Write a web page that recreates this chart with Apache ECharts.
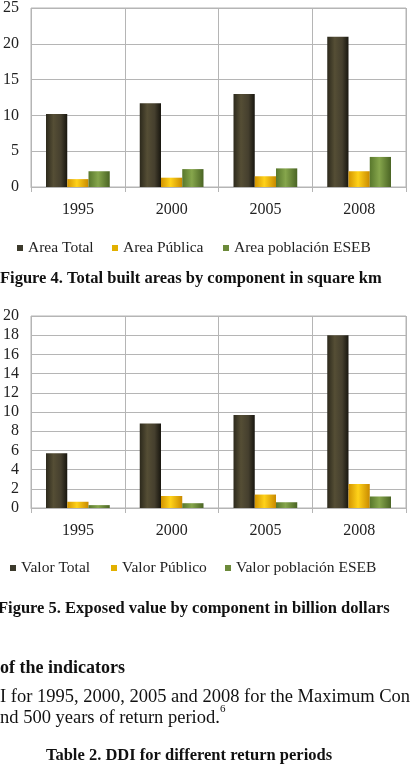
<!DOCTYPE html>
<html>
<head>
<meta charset="utf-8">
<script src="https://cdn.jsdelivr.net/npm/echarts@6/dist/echarts.min.js"></script>
<style>
html,body{margin:0;padding:0;background:#fff;}
#c{width:417px;height:769px;}
</style>
</head>
<body>
<div id="c"></div>
<script>
// ---- data ----
var years = ['1995', '2000', '2005', '2008'];
var areaNames = ['Area Total', 'Area Pública', 'Area población ESEB'];
var areaTotal = [10.2, 11.7, 13.0, 21.0];
var areaPublica = [1.1, 1.3, 1.5, 2.2];
var areaESEB = [2.2, 2.5, 2.6, 4.2];
var areaTicks = [0, 5, 10, 15, 20, 25];

var valorNames = ['Valor Total', 'Valor Público', 'Valor población ESEB'];
var valorTotal = [5.7, 8.8, 9.7, 18.0];
var valorPublico = [0.65, 1.25, 1.4, 2.5];
var valorESEB = [0.3, 0.5, 0.6, 1.2];
var valorTicks = [0, 2, 4, 6, 8, 10, 12, 14, 16, 18, 20];

var captionFig4 = 'Figure 4. Total built areas by component in square km';
var captionFig5 = 'Figure 5. Exposed value by component in billion dollars';
var heading = 'of the indicators';
var body1 = 'I for 1995, 2000, 2005 and 2008 for the Maximum Con';
var body2 = 'nd 500 years of return period.';
var sup = '6';
var tableTitle = 'Table 2. DDI for different return periods';

// ---- styles ----
var FONT = '"Liberation Serif", "DejaVu Serif", serif';
function grad(stops) {
  return new echarts.graphic.LinearGradient(0, 0, 1, 0, stops.map(function (s) { return { offset: s[0], color: s[1] }; }));
}
var cTotal = grad([[0, '#2c291c'], [0.35, '#554e35'], [0.7, '#453f2e'], [1, '#18160f']]);
var cPub = grad([[0, '#d39400'], [0.45, '#ffd21a'], [1, '#c98a00']]);
var cEseb = grad([[0, '#58772c'], [0.45, '#86a64c'], [1, '#4a6424']]);
var legendColors = ['#3c3a2c', '#e2b000', '#6c8a3a'];
var grey = '#b5b5b5';

var chart = echarts.init(document.getElementById('c'), null, { renderer: 'canvas' });

function xAxisFor(gi) {
  return {
    type: 'category', gridIndex: gi, data: years,
    axisLine: { show: true, lineStyle: { color: grey, width: 1 } },
    axisTick: { show: true, length: 5, lineStyle: { color: grey } },
    axisLabel: { color: '#222', fontFamily: FONT, fontSize: 16, margin: 15 },
    splitLine: { show: true, lineStyle: { color: grey, width: 1 } }
  };
}
function yAxisFor(gi, ticks) {
  return {
    type: 'value', gridIndex: gi, min: ticks[0], max: ticks[ticks.length - 1],
    interval: ticks[1] - ticks[0],
    axisLine: { show: false }, axisTick: { show: false },
    axisLabel: { color: '#222', fontFamily: FONT, fontSize: 16, margin: 12 },
    splitLine: { show: true, lineStyle: { color: grey, width: 1 } }
  };
}
function barSeries(name, data, xi, color) {
  return {
    type: 'bar', name: name, data: data, xAxisIndex: xi, yAxisIndex: xi,
    barGap: '0%', barCategoryGap: '32%',
    itemStyle: { color: color }
  };
}
function legendItem(name, color, left, top) {
  return {
    data: [{ name: name, itemStyle: { color: color } }],
    left: left, top: top, icon: 'rect', itemWidth: 6, itemHeight: 6,
    selectedMode: false, padding: 0,
    textStyle: { fontFamily: FONT, fontSize: 15.5, color: '#222' }
  };
}
function txt(x, y, text, size, bold, align) {
  return {
    type: 'text', x: x, y: y,
    style: {
      text: text, fill: '#111', font: (bold ? 'bold ' : '') + size + 'px ' + FONT,
      textAlign: align || 'left', textVerticalAlign: 'middle'
    }
  };
}

chart.setOption({
  animation: false,
  grid: [
    { left: 30, right: 11, top: 6, height: 181, show: true, borderColor: grey, borderWidth: 1 },
    { left: 30, right: 11, top: 316, height: 192, show: true, borderColor: grey, borderWidth: 1 }
  ],
  xAxis: [xAxisFor(0), xAxisFor(1)],
  yAxis: [yAxisFor(0, areaTicks), yAxisFor(1, valorTicks)],
  legend: [
    legendItem(areaNames[0], legendColors[0], 17, 240),
    legendItem(areaNames[1], legendColors[1], 112, 240),
    legendItem(areaNames[2], legendColors[2], 223, 240),
    legendItem(valorNames[0], legendColors[0], 10, 560),
    legendItem(valorNames[1], legendColors[1], 111, 560),
    legendItem(valorNames[2], legendColors[2], 225, 560)
  ],
  series: [
    barSeries(areaNames[0], areaTotal, 0, cTotal),
    barSeries(areaNames[1], areaPublica, 0, cPub),
    barSeries(areaNames[2], areaESEB, 0, cEseb),
    barSeries(valorNames[0], valorTotal, 1, cTotal),
    barSeries(valorNames[1], valorPublico, 1, cPub),
    barSeries(valorNames[2], valorESEB, 1, cEseb)
  ],
  graphic: [
    txt(0, 279, captionFig4, 16.5, true),
    txt(-2, 609, captionFig5, 16.5, true),
    txt(0, 668, heading, 18, true),
    txt(0, 697, body1, 18.5, false),
    txt(0, 718, body2, 18.5, false),
    txt(220, 709, sup, 11, false),
    txt(189, 756, tableTitle, 16.5, true, 'center')
  ]
});
</script>
</body>
</html>
